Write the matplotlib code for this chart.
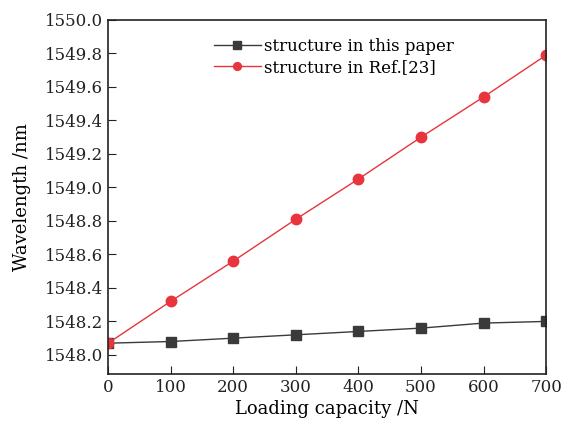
import matplotlib.pyplot as plt
import numpy as np

plt.rcParams['font.family'] = 'DejaVu Serif'

load = [0, 100, 200, 300, 400, 500, 600, 700]
this_paper = [1548.07, 1548.08, 1548.10, 1548.12, 1548.14, 1548.16, 1548.19, 1548.20]
ref23 = [1548.07, 1548.32, 1548.56, 1548.81, 1549.05, 1549.30, 1549.54, 1549.79]

fig = plt.figure(figsize=(5.63, 4.25), dpi=100)
ax = fig.add_axes([0.192, 0.12, 0.778, 0.833])

ax.plot(load, this_paper, color='#3a3a3a', marker='s', markersize=7, lw=1.0,
        label='structure in this paper')
ax.plot(load, ref23, color='#e8343c', marker='o', markersize=7.5, lw=1.0,
        label='structure in Ref.[23]')

ax.set_xlim(0, 700)
ax.set_ylim(1547.886, 1550.0)
ax.set_xticks(np.arange(0, 701, 100))
ax.set_yticks(np.arange(1548.0, 1550.01, 0.2))
ax.set_yticklabels(['%.1f' % v for v in np.arange(1548.0, 1550.01, 0.2)])
ax.tick_params(direction='in', length=6, labelsize=12, colors='#222222')
ax.set_xlabel('Loading capacity /N', fontsize=13, labelpad=3)
ax.set_ylabel('Wavelength /nm', fontsize=13, labelpad=10)
for s in ax.spines.values():
    s.set_linewidth(1.2)
    s.set_color('#222222')

ax.legend(loc='upper left', bbox_to_anchor=(0.2, 1.0), frameon=False, fontsize=12,
          handlelength=2.8, handletextpad=0.2, labelspacing=0.2, borderpad=0.6,
          markerscale=0.75)

fig.savefig('out.png', dpi=100)
